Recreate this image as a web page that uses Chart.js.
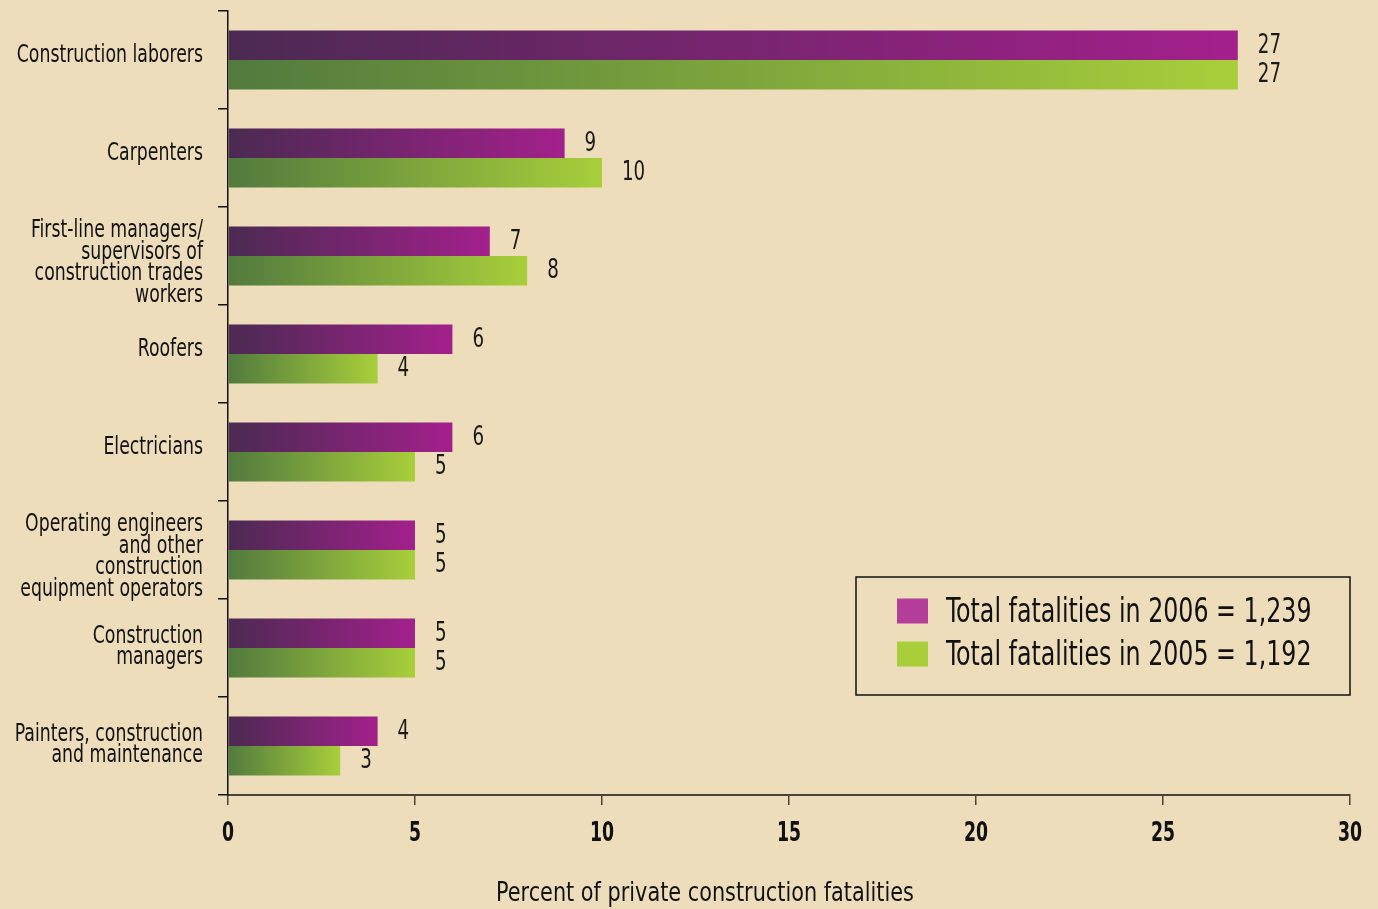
<!DOCTYPE html>
<html lang="en">
    <head>
        <meta charset="UTF-8">
        <title>Construction fatalities</title>
        <script src="https://cdn.jsdelivr.net/npm/chart.js"></script>
        <style>
            html, body { margin: 0; padding: 0; background: #EDDDBB; }
            .chart-container { position: relative; width: 1378px; height: 909px; }
        </style>
    </head>
    <body>
        <div class="chart-container">
            <canvas id="chart"></canvas>
        </div>

        <script>
            // data
            const occupations = [
                'Construction laborers',
                'Carpenters',
                ['First-line managers/', 'supervisors of', 'construction trades', 'workers'],
                'Roofers',
                'Electricians',
                ['Operating engineers', 'and other', 'construction', 'equipment operators'],
                ['Construction', 'managers'],
                ['Painters, construction', 'and maintenance']
            ];
            const pct2006 = [27, 9, 7, 6, 6, 5, 5, 4];
            const pct2005 = [27, 10, 8, 4, 5, 5, 5, 3];
            const seriesLabels = ['Total fatalities in 2006 = 1,239', 'Total fatalities in 2005 = 1,192'];
            const xTicks = [0, 5, 10, 15, 20, 25, 30];
            const xTitle = 'Percent of private construction fatalities';

            const FONT = "'DejaVu Sans Condensed', 'DejaVu Sans', sans-serif";
            const swatch = ['#B53F98', '#A8CF3A'];
            const gradStops = [['#4B2A52', '#A3208C'], ['#527A3E', '#A8CF3A']];

            function barGradient(setIndex) {
                return (ctx) => {
                    const chart = ctx.chart;
                    const xs = chart.scales.x;
                    if (!xs || ctx.raw === undefined) return gradStops[setIndex][1];
                    const x0 = xs.getPixelForValue(0);
                    const x1 = xs.getPixelForValue(ctx.raw);
                    if (!isFinite(x0) || !isFinite(x1) || x0 === x1) return gradStops[setIndex][1];
                    const g = chart.ctx.createLinearGradient(x0, 0, x1, 0);
                    g.addColorStop(0, gradStops[setIndex][0]);
                    g.addColorStop(1, gradStops[setIndex][1]);
                    return g;
                };
            }

            // the original uses a very narrow typeface, so squeeze text sideways
            function narrowText(c, text, x, y, align, sx) {
                c.save();
                c.translate(x, y);
                c.scale(sx, 1);
                c.textAlign = align;
                c.fillText(text, 0, 0);
                c.restore();
            }

            // background fill
            const bgPlugin = {
                id: 'bg',
                beforeDraw(chart) {
                    const c = chart.ctx;
                    c.save();
                    c.fillStyle = '#EDDDBB';
                    c.fillRect(0, 0, chart.width, chart.height);
                    c.restore();
                }
            };

            // axis labels and title, placed from the chart's own scales
            const axisText = {
                id: 'axisText',
                afterDraw(chart) {
                    const c = chart.ctx;
                    const xs = chart.scales.x, ys = chart.scales.y;
                    c.save();
                    c.fillStyle = '#111';
                    c.textBaseline = 'middle';

                    c.font = '25px ' + FONT;
                    chart.data.labels.forEach((lab, i) => {
                        const lines = Array.isArray(lab) ? lab : [lab];
                        // single lines sit a bit high, stacked ones a bit low
                        const cy = ys.getPixelForValue(i) + (lines.length - 1) * 4 - 5;
                        const lh = 21.5;
                        lines.forEach((ln, k) => {
                            const y = cy + (k - (lines.length - 1) / 2) * lh;
                            narrowText(c, ln, ys.right - 25, y, 'right', 0.77);
                        });
                    });

                    c.font = 'bold 26px ' + FONT;
                    xTicks.forEach(v => {
                        narrowText(c, String(v), xs.getPixelForValue(v), xs.top + 39, 'center', 0.74);
                    });

                    c.font = '26px ' + FONT;
                    narrowText(c, xTitle, 705, xs.top + 99, 'center', 0.89);
                    c.restore();
                }
            };

            // numbers at the end of every bar
            const valuePlugin = {
                id: 'values',
                afterDatasetsDraw(chart) {
                    const c = chart.ctx;
                    c.save();
                    c.font = '26px ' + FONT;
                    c.fillStyle = '#1a1a1a';
                    c.textBaseline = 'middle';
                    chart.data.datasets.forEach((ds, i) => {
                        chart.getDatasetMeta(i).data.forEach((bar, j) => {
                            narrowText(c, String(ds.data[j]), bar.x + 20, bar.y + 1, 'left', 0.78);
                        });
                    });
                    c.restore();
                }
            };

            // boxed legend in the lower right
            const legendBox = {
                id: 'legendBox',
                afterDraw(chart) {
                    const c = chart.ctx;
                    const right = chart.scales.x.right;
                    const left = 856, top = 577, bottom = 695;
                    c.save();
                    c.strokeStyle = '#111';
                    c.lineWidth = 1.5;
                    c.strokeRect(left, top, right - left, bottom - top);
                    c.font = '33px ' + FONT;
                    c.textBaseline = 'middle';
                    chart.data.datasets.forEach((ds, i) => {
                        const cy = 611 + i * 43;
                        c.fillStyle = swatch[i];
                        c.fillRect(897, cy - 12.5, 31, 25);
                        c.fillStyle = '#111';
                        narrowText(c, ds.label, 946, cy + 2, 'left', 0.8);
                    });
                    c.restore();
                }
            };

            new Chart(document.getElementById('chart'), {
                type: 'bar',
                data: {
                    labels: occupations,
                    datasets: [
                        {
                            label: seriesLabels[0],
                            data: pct2006,
                            backgroundColor: barGradient(0),
                            categoryPercentage: 0.6,
                            barPercentage: 1.0
                        },
                        {
                            label: seriesLabels[1],
                            data: pct2005,
                            backgroundColor: barGradient(1),
                            categoryPercentage: 0.6,
                            barPercentage: 1.0
                        }
                    ]
                },
                options: {
                    indexAxis: 'y',
                    responsive: true,
                    maintainAspectRatio: false,
                    animation: false,
                    layout: { padding: { top: 11, right: 28, left: 0, bottom: 0 } },
                    plugins: {
                        legend: { display: false },
                        tooltip: { enabled: false }
                    },
                    scales: {
                        x: {
                            min: 0,
                            max: 30,
                            afterBuildTicks: (scale) => { scale.ticks = xTicks.map(v => ({ value: v })); },
                            afterFit: (scale) => { scale.height = 114; },
                            border: { color: '#4A4538', width: 2 },
                            grid: { drawOnChartArea: false, tickLength: 10, color: '#4A4538', lineWidth: 1.5 },
                            ticks: { display: false }
                        },
                        y: {
                            afterFit: (scale) => { scale.width = 228; },
                            border: { color: '#111', width: 1.5 },
                            grid: { drawOnChartArea: false, offset: true, tickLength: 10, color: '#111', lineWidth: 1.5 },
                            ticks: { display: false }
                        }
                    }
                },
                plugins: [bgPlugin, valuePlugin, axisText, legendBox]
            });
        </script>
    </body>
</html>
